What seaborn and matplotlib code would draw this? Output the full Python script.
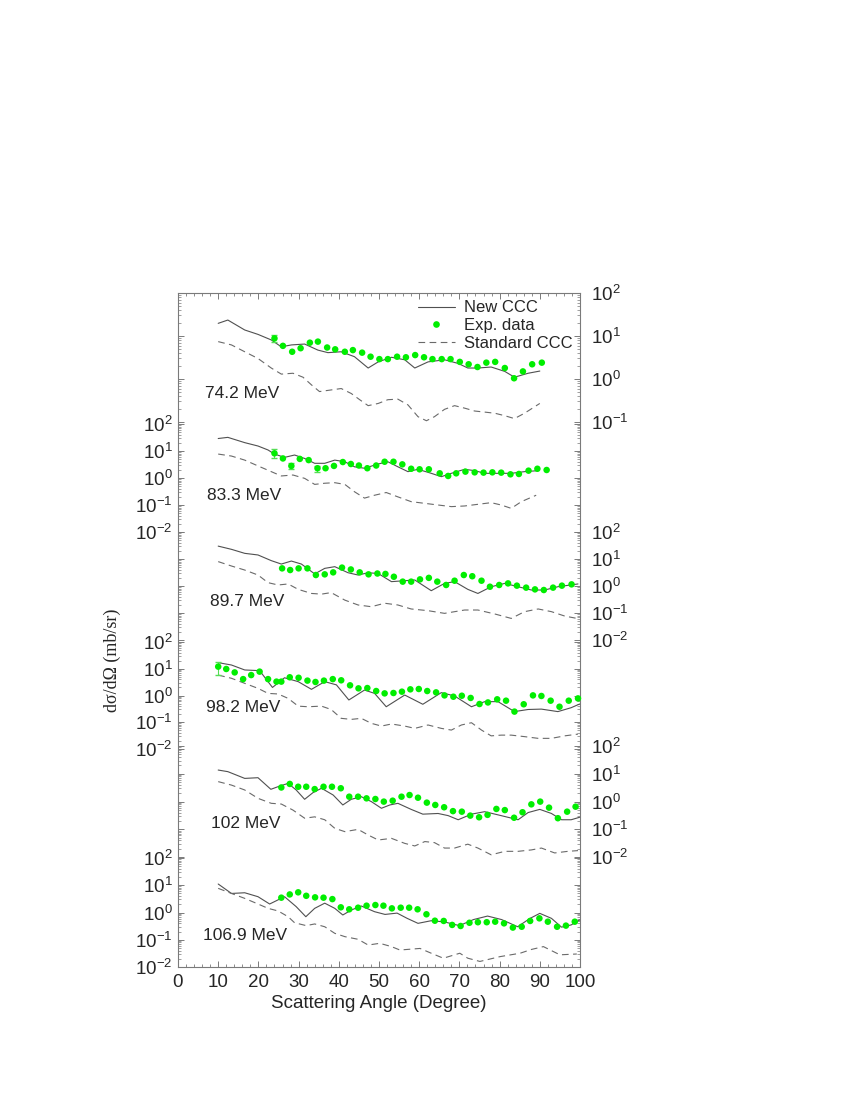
import numpy as np
import matplotlib
matplotlib.use("Agg")
import matplotlib.pyplot as plt
import seaborn as sns
from matplotlib.ticker import LogLocator, MultipleLocator, NullFormatter, FuncFormatter
from matplotlib.lines import Line2D
from matplotlib.legend_handler import HandlerLine2D

# ---- 74.2 MeV ----
ang_new_742 = [10, 12.4, 16.6, 19.9, 23.2, 25.7, 28.2, 31.5, 34.8, 37.3, 40.6, 43.9, 47.3, 49.8, 53.1, 56.4,
               58.9, 62.2, 66.3, 69.7, 72.1, 74.6, 77.9, 81.3, 83.7, 87.1, 90.0]
new_742 = [19.7, 23.5, 13.8, 10.9, 8.1, 5.6, 6.2, 6.5, 4.7, 4.1, 4.3, 3.3, 1.8, 2.5, 3.2, 2.8,
           1.8, 2.5, 2.8, 2.3, 1.8, 1.8, 1.9, 1.5, 1.1, 1.36, 1.53]
ang_exp_742 = [24.0, 26.1, 28.4, 30.5, 32.8, 34.8, 37.1, 39.1, 41.5, 43.5, 45.8, 47.9, 50.1, 52.2, 54.5, 56.7,
               59.0, 61.2, 63.3, 65.6, 67.8, 70.1, 72.3, 74.5, 76.7, 78.9, 81.3, 83.6, 85.8, 88.1, 90.5]
exp_742 = [8.8, 5.9, 4.3, 5.2, 7.0, 7.4, 5.4, 4.9, 4.3, 4.7, 4.1, 3.3, 2.9, 2.9, 3.3, 3.2,
           3.6, 3.2, 2.9, 2.9, 2.9, 2.5, 2.2, 1.9, 2.4, 2.5, 1.8, 1.04, 1.5, 2.2, 2.4]
ang_std_742 = [10, 13.3, 16.6, 19.9, 23.2, 25.7, 28.6, 31.1, 33.2, 35.2, 37.7, 40.6, 43.1, 45.2, 47.3, 49.8,
               52.2, 54.7, 57.2, 59.7, 61.8, 63.8, 66.3, 68.8, 71.3, 73.8, 76.3, 78.8, 81.3, 83.7, 86.2, 90.0]
std_742 = [7.4, 6.2, 4.3, 3.0, 1.8, 1.3, 1.36, 1.1, 0.73, 0.51, 0.55, 0.60, 0.46, 0.33, 0.24, 0.27,
           0.33, 0.34, 0.25, 0.133, 0.107, 0.133, 0.197, 0.24, 0.21, 0.18, 0.17, 0.16, 0.14, 0.12, 0.16, 0.27]
err_x_742, err_lo_742, err_hi_742 = [24.0], [7.4], [10.5]

# ---- 83.3 MeV ----
ang_new_833 = [10, 12.4, 16.6, 19.9, 22.4, 24.0, 26.5, 29.0, 31.5, 34.0, 36.5, 39.0, 41.5, 43.9, 46.4, 49.8,
               52.2, 54.7, 57.2, 59.7, 63.0, 65.5, 68.0, 71.3, 73.8, 76.3, 79.6, 82.9, 86.2, 89.6]
new_833 = [29, 32, 20.4, 15.3, 10.9, 7.7, 5.8, 7.1, 5.3, 3.5, 3.5, 4.6, 4.0, 2.6, 2.3, 3.3,
           4.0, 2.6, 1.72, 2.1, 1.49, 1.12, 1.49, 2.1, 1.87, 1.49, 1.49, 1.49, 1.72, 1.87]
ang_exp_833 = [24.0, 26.1, 28.2, 30.3, 32.5, 34.7, 36.7, 38.8, 41.0, 43.0, 45.0, 47.1, 49.3, 51.4, 53.6, 55.8,
               58.0, 60.1, 62.4, 65.1, 67.2, 69.2, 71.5, 73.8, 76.0, 78.2, 80.4, 82.7, 84.8, 87.2, 89.4, 91.7]
exp_833 = [8.2, 5.3, 2.8, 5.1, 4.6, 2.3, 2.3, 2.8, 3.9, 3.3, 2.9, 2.3, 2.9, 4.0, 4.0, 3.2,
           2.2, 2.1, 2.1, 1.49, 1.19, 1.49, 1.72, 1.62, 1.58, 1.62, 1.58, 1.37, 1.41, 1.87, 2.2, 1.98]
ang_std_833 = [10, 13.3, 16.6, 19.9, 23.2, 25.7, 28.6, 31.5, 34.0, 36.5, 39.0, 41.5, 43.9, 46.4, 48.9, 51.8,
               54.7, 58.0, 61.4, 64.7, 68.0, 71.3, 74.6, 77.9, 80.4, 82.9, 85.4, 89.1]
std_833 = [7.7, 6.5, 4.6, 2.8, 1.72, 1.19, 1.29, 0.97, 0.58, 0.64, 0.67, 0.58, 0.31, 0.18, 0.23, 0.29,
           0.20, 0.133, 0.115, 0.10, 0.087, 0.092, 0.106, 0.122, 0.10, 0.075, 0.133, 0.23]
err_x_833, err_lo_833, err_hi_833 = [24.0, 28.2, 34.7], [5.6, 2.1, 1.62], [11.5, 3.5, 2.9]

# ---- 89.7 MeV ----
ang_new_897 = [10, 13.3, 16.6, 19.9, 23.2, 25.7, 28.2, 30.7, 34.0, 36.5, 39.0, 42.3, 44.8, 47.3, 49.8, 53.1,
               56.4, 58.9, 63.0, 66.3, 68.8, 72.1, 74.6, 77.9, 81.3, 84.6, 87.9, 91.2, 94.5, 99.5]
new_897 = [30, 22.8, 16.2, 14.1, 8.7, 6.5, 8.4, 6.5, 2.8, 4.5, 5.2, 3.1, 2.55, 3.1, 2.9, 1.45,
           1.57, 1.67, 0.67, 1.25, 1.45, 0.75, 0.53, 0.94, 1.25, 0.94, 0.71, 0.71, 0.94, 1.19]
ang_exp_897 = [25.9, 27.9, 30.0, 32.2, 34.3, 36.5, 38.6, 40.8, 43.0, 45.2, 47.4, 49.6, 51.6, 53.7, 55.9, 58.0,
               60.2, 62.4, 64.5, 66.7, 68.8, 71.1, 73.2, 75.5, 77.6, 79.9, 82.1, 84.3, 86.6, 88.8, 91.0, 93.3,
               95.5, 97.9]
exp_897 = [4.5, 3.9, 4.5, 4.5, 2.55, 2.7, 3.2, 4.8, 4.1, 3.2, 2.7, 2.9, 2.8, 2.2, 1.45, 1.45,
           1.76, 2.0, 1.45, 1.09, 1.57, 2.55, 2.3, 1.57, 0.94, 1.09, 1.25, 1.03, 0.87, 0.75, 0.71, 0.87,
           1.03, 1.15]
ang_std_897 = [10, 13.3, 16.6, 19.9, 22.4, 24.9, 27.4, 29.9, 33.2, 35.7, 38.1, 41.5, 44.8, 48.1, 51.4, 54.7,
               58.0, 62.2, 66.3, 71.3, 74.6, 78.8, 82.9, 86.2, 89.6, 92.9, 96.2, 99.5]
std_897 = [8.0, 5.5, 3.9, 2.55, 1.33, 1.09, 1.19, 0.75, 0.53, 0.50, 0.57, 0.30, 0.198, 0.171, 0.23, 0.198,
           0.141, 0.122, 0.097, 0.129, 0.129, 0.092, 0.063, 0.112, 0.141, 0.112, 0.077, 0.062]
err_x_897, err_lo_897, err_hi_897 = [], [], []

# ---- 98.2 MeV ----
ang_new_982 = [10, 13.3, 16.6, 20.3, 23.5, 26.5, 29.9, 33.2, 36.5, 39.4, 42.5, 46.4, 48.9, 51.8, 56.4, 60.9,
               65.5, 68.8, 73.0, 76.3, 79.6, 83.7, 87.1, 90.4, 94.5, 97.8, 99.9]
new_982 = [16.9, 13.8, 9.0, 8.5, 2.0, 4.6, 3.3, 1.70, 3.3, 2.5, 0.68, 1.60, 1.20, 0.38, 1.04, 0.47,
           1.28, 0.96, 0.38, 0.59, 0.59, 0.25, 0.30, 0.31, 0.25, 0.35, 0.48]
ang_exp_982 = [10.0, 12.0, 14.1, 16.2, 18.2, 20.3, 22.4, 24.5, 25.7, 27.8, 30.0, 32.2, 34.2, 36.3, 38.5, 40.6,
               42.8, 44.9, 47.1, 49.3, 51.4, 53.6, 55.7, 57.8, 59.9, 62.0, 64.2, 66.3, 68.5, 70.6, 72.8, 75.0,
               77.1, 79.4, 81.6, 83.7, 86.0, 88.3, 90.4, 92.7, 94.9, 97.2, 99.5]
exp_982 = [12.0, 9.8, 7.3, 4.1, 5.8, 7.8, 4.1, 3.3, 3.3, 4.8, 4.6, 3.6, 3.2, 3.6, 4.1, 3.7,
           2.4, 1.85, 1.9, 1.47, 1.20, 1.24, 1.39, 1.70, 1.75, 1.47, 1.31, 1.01, 0.90, 0.98, 0.81, 0.48,
           0.55, 0.72, 0.64, 0.25, 0.47, 1.01, 0.96, 0.64, 0.38, 0.64, 0.78]
ang_std_982 = [10, 13.3, 16.6, 19.9, 22.4, 24.9, 27.4, 29.9, 32.3, 35.7, 38.1, 40.6, 43.1, 45.6, 48.1, 50.6,
               53.1, 56.4, 58.9, 62.2, 65.5, 68.0, 70.5, 73.0, 75.5, 77.9, 80.4, 82.9, 86.2, 89.6, 92.9, 96.2, 99.5]
std_982 = [5.8, 4.4, 2.85, 1.85, 1.20, 1.14, 0.78, 0.40, 0.38, 0.40, 0.30, 0.14, 0.128, 0.14, 0.091, 0.072,
           0.086, 0.072, 0.059, 0.079, 0.059, 0.051, 0.079, 0.096, 0.051, 0.031, 0.033, 0.033, 0.029, 0.025,
           0.025, 0.031, 0.036]
err_x_982, err_lo_982, err_hi_982 = [10.0], [5.8], [18.4]

# ---- 102 MeV ----
ang_new_102 = [10, 12.4, 16.6, 19.9, 23.1, 25.3, 27.4, 29.4, 31.5, 33.6, 35.7, 38.6, 41.0, 43.1, 45.6, 48.1,
               50.6, 52.7, 54.7, 58.0, 60.9, 64.7, 67.2, 69.7, 73.0, 76.3, 79.6, 84.6, 87.1, 90.0, 92.9, 95.4,
               97.8, 99.9]
new_102 = [13.6, 11.9, 6.8, 7.2, 2.75, 3.6, 4.5, 2.6, 1.20, 2.1, 3.0, 1.71, 0.75, 1.20, 1.49, 0.99,
           0.57, 0.75, 0.86, 0.52, 0.35, 0.37, 0.31, 0.22, 0.35, 0.43, 0.33, 0.22, 0.40, 0.52, 0.37, 0.22,
           0.22, 0.27]
ang_exp_102 = [25.7, 27.8, 29.9, 31.9, 34.0, 36.2, 38.3, 40.5, 42.6, 44.8, 46.9, 49.1, 51.2, 53.4, 55.6, 57.6,
               59.7, 61.9, 64.0, 66.2, 68.4, 70.6, 72.7, 74.9, 77.0, 79.2, 81.3, 83.6, 85.7, 87.9, 90.1, 92.3,
               94.5, 96.8, 98.9]
exp_102 = [3.2, 4.3, 3.4, 3.4, 2.8, 3.4, 3.4, 3.0, 1.49, 1.49, 1.30, 1.23, 0.99, 1.07, 1.49, 1.71,
           1.37, 0.91, 0.75, 0.62, 0.45, 0.43, 0.31, 0.27, 0.33, 0.54, 0.49, 0.26, 0.41, 0.79, 0.99, 0.60,
           0.25, 0.43, 0.65]
ang_std_102 = [10, 13.3, 16.6, 19.9, 23.2, 25.7, 28.6, 31.5, 34.0, 36.5, 39.0, 41.5, 44.8, 47.3, 49.8, 53.1,
               56.4, 58.9, 61.4, 63.8, 66.3, 68.8, 72.1, 74.6, 77.9, 81.3, 84.6, 87.9, 90.4, 93.7, 97.0, 99.5]
std_102 = [5.2, 3.9, 2.6, 1.30, 0.86, 0.81, 0.49, 0.25, 0.28, 0.22, 0.108, 0.082, 0.099, 0.062, 0.041, 0.047,
           0.031, 0.025, 0.036, 0.033, 0.021, 0.021, 0.029, 0.021, 0.012, 0.016, 0.016, 0.018, 0.021, 0.014,
           0.016, 0.017]
err_x_102, err_lo_102, err_hi_102 = [], [], []

# ---- 106.9 MeV ----
ang_new_1069 = [10, 13.3, 16.6, 19.9, 22.8, 26.5, 29.4, 31.8, 34.0, 36.5, 39.0, 41.0, 43.1, 45.6, 48.9, 51.5,
                54.5, 57.0, 59.7, 63.0, 66.3, 70.0, 73.5, 77.0, 80.5, 84.5, 87.5, 90.0, 92.9, 95.4, 97.8, 99.9]
new_1069 = [11.1, 5.0, 5.3, 3.8, 2.05, 3.8, 1.64, 0.70, 1.42, 2.2, 1.42, 0.81, 1.23, 1.73, 1.07, 0.85,
            0.95, 0.61, 0.40, 0.50, 0.45, 0.33, 0.55, 0.74, 0.55, 0.30, 0.60, 0.93, 0.61, 0.29, 0.35, 0.53]
ang_exp_1069 = [25.7, 27.8, 29.9, 31.9, 34.1, 36.2, 38.4, 40.5, 42.6, 44.8, 46.9, 49.1, 51.1, 53.2, 55.4, 57.5,
                59.6, 61.8, 63.9, 66.1, 68.2, 70.3, 72.5, 74.6, 76.8, 78.9, 81.1, 83.3, 85.5, 87.6, 89.9, 92.0,
                94.3, 96.5, 98.7]
exp_1069 = [3.5, 4.6, 5.5, 4.1, 3.6, 3.5, 3.1, 1.55, 1.31, 1.50, 1.78, 1.88, 1.78, 1.42, 1.50, 1.50,
            1.31, 0.86, 0.50, 0.49, 0.35, 0.32, 0.42, 0.44, 0.44, 0.46, 0.40, 0.28, 0.30, 0.49, 0.61, 0.46,
            0.30, 0.33, 0.46]
ang_std_1069 = [10, 13.3, 16.6, 19.9, 22.4, 24.9, 27.4, 29.0, 31.9, 34.0, 36.5, 39.0, 41.5, 44.8, 47.3, 50.2,
                53.1, 55.2, 60.2, 63.0, 66.0, 70.1, 72.1, 75.1, 80.1, 85.1, 87.9, 90.9, 95.0, 99.2]
std_1069 = [7.7, 5.0, 3.3, 2.05, 1.42, 1.14, 0.70, 0.42, 0.33, 0.38, 0.30, 0.172, 0.130, 0.104, 0.064, 0.074,
            0.056, 0.042, 0.048, 0.032, 0.021, 0.032, 0.021, 0.016, 0.024, 0.032, 0.044, 0.056, 0.028, 0.030]
err_x_1069, err_lo_1069, err_hi_1069 = [], [], []

energy_labels = ["74.2 MeV", "83.3 MeV", "89.7 MeV", "98.2 MeV", "102 MeV", "106.9 MeV"]

panels = [
    dict(new=(ang_new_742, new_742), exp=(ang_exp_742, exp_742), std=(ang_std_742, std_742),
         err=(err_x_742, err_lo_742, err_hi_742)),
    dict(new=(ang_new_833, new_833), exp=(ang_exp_833, exp_833), std=(ang_std_833, std_833),
         err=(err_x_833, err_lo_833, err_hi_833)),
    dict(new=(ang_new_897, new_897), exp=(ang_exp_897, exp_897), std=(ang_std_897, std_897),
         err=(err_x_897, err_lo_897, err_hi_897)),
    dict(new=(ang_new_982, new_982), exp=(ang_exp_982, exp_982), std=(ang_std_982, std_982),
         err=(err_x_982, err_lo_982, err_hi_982)),
    dict(new=(ang_new_102, new_102), exp=(ang_exp_102, exp_102), std=(ang_std_102, std_102),
         err=(err_x_102, err_lo_102, err_hi_102)),
    dict(new=(ang_new_1069, new_1069), exp=(ang_exp_1069, exp_1069), std=(ang_std_1069, std_1069),
         err=(err_x_1069, err_lo_1069, err_hi_1069)),
]

# layout (pixels): y of 10^2, y of lowest decade, lowest decade, label side, energy label position
layout = [
    (293, 422, 0.1, "right", 205, 393),
    (424, 532, 0.01, "left", 207, 496),
    (532, 640, 0.01, "right", 210, 602),
    (642, 749, 0.01, "left", 206, 708),
    (746, 857, 0.01, "right", 211, 823),
    (858, 967, 0.01, "left", 203, 936),
]

sns.set_style("ticks")
plt.rcParams["font.family"] = ["Liberation Sans", "DejaVu Sans"]
plt.rcParams["mathtext.fontset"] = "custom"
plt.rcParams["mathtext.rm"] = "Liberation Sans"
plt.rcParams["mathtext.it"] = "Liberation Sans:italic"
plt.rcParams["mathtext.bf"] = "Liberation Sans:bold"

W, H = 845, 1093
X0, X1 = 178, 580
GRAY = "#7a7a7a"
SOLID = "#505050"
DASH = "#6a6a6a"
GREEN = "#00ee00"
TICK_FS = 13.5
LAB_FS = 12.5


def rect(y_top, y_bot):
    return [X0 / W, 1 - y_bot / H, (X1 - X0) / W, (y_bot - y_top) / H]


fig = plt.figure(figsize=(W / 100, H / 100), dpi=100)

frame = fig.add_axes(rect(293, 967))
frame.set_xlim(0, 100)
frame.set_ylim(0, 1)
frame.set_yticks([])
frame.xaxis.set_major_locator(MultipleLocator(10))
frame.xaxis.set_minor_locator(MultipleLocator(2))
frame.tick_params(axis="x", which="both", direction="in", top=True, bottom=True,
                  color=GRAY, labelsize=TICK_FS, pad=5)
frame.tick_params(axis="x", which="major", length=4.5, width=0.7)
frame.tick_params(axis="x", which="minor", length=2.5, width=0.6)
for sp in frame.spines.values():
    sp.set_color(GRAY)
    sp.set_linewidth(0.8)
frame.set_xlabel("Scattering Angle (Degree)", fontsize=TICK_FS, labelpad=3)

fmt = FuncFormatter(lambda v, pos: r"$10^{%d}$" % int(round(np.log10(v))))

for p, (yt, yb, ylo, side, lx, ly), lab in zip(panels, layout, energy_labels):
    pax = fig.add_axes(rect(yt, yb))
    pax.patch.set_visible(False)
    for sp in pax.spines.values():
        sp.set_visible(False)

    sns.lineplot(x=p["new"][0], y=p["new"][1], ax=pax, color=SOLID, linewidth=0.8,
                 estimator=None, clip_on=False)
    sns.lineplot(x=p["std"][0], y=p["std"][1], ax=pax, color=DASH, linewidth=0.8,
                 linestyle=(0, (6, 4)), estimator=None, clip_on=False)
    ex, elo, ehi = p["err"]
    if ex:
        ey = [p["exp"][1][p["exp"][0].index(x)] for x in ex]
        pax.errorbar(ex, ey, yerr=[np.subtract(ey, elo), np.subtract(ehi, ey)], fmt="none",
                     ecolor="#55dd55", elinewidth=0.8, capsize=2.5, clip_on=False)
    sns.scatterplot(x=p["exp"][0], y=p["exp"][1], ax=pax, color=GREEN, s=22,
                    edgecolor="none", linewidth=0, clip_on=False, zorder=3, legend=False)

    pax.set_yscale("log")
    pax.set_xlim(0, 100)
    pax.set_ylim(ylo, 100)
    pax.set_xlabel("")
    pax.set_ylabel("")
    pax.xaxis.set_visible(False)
    pax.yaxis.set_major_locator(LogLocator(base=10, numticks=10))
    pax.yaxis.set_minor_locator(LogLocator(base=10, subs=np.arange(2, 10), numticks=20))
    pax.yaxis.set_major_formatter(fmt)
    pax.yaxis.set_minor_formatter(NullFormatter())
    pax.tick_params(axis="y", which="both", direction="in", left=True, right=True,
                    labelleft=(side == "left"), labelright=(side == "right"),
                    color=GRAY, labelsize=TICK_FS, pad=(4 if side == "left" else 8))
    pax.tick_params(axis="y", which="major", length=4.5, width=0.7)
    pax.tick_params(axis="y", which="minor", length=2.5, width=0.5)

    fig.text(lx / W, 1 - ly / H, lab, fontsize=LAB_FS, ha="left", va="center")


class RightMarker(HandlerLine2D):
    def get_xdata(self, legend, xdescent, ydescent, width, height, fontsize):
        xd = np.array([-xdescent, -xdescent + width])
        return xd, np.array([-xdescent + width])


handles = [
    Line2D([], [], color=SOLID, linewidth=0.8),
    Line2D([], [], color=GREEN, marker="o", markersize=4.8, linestyle="none", markeredgewidth=0),
    Line2D([], [], color=DASH, linewidth=0.8, linestyle=(0, (6, 4))),
]
frame.legend(handles, ["New CCC", "Exp. data", "Standard CCC"], loc="upper right",
             bbox_to_anchor=(1.0, 1.0), frameon=False, fontsize=12, handlelength=2.2,
             handletextpad=0.55, labelspacing=0.15, borderaxespad=0.25, borderpad=0.2,
             handler_map={handles[1]: RightMarker(numpoints=1)})

fig.text(112 / W, 1 - 660 / H, "dσ/dΩ (mb/sr)", rotation=90, ha="center", va="center",
         fontsize=13, family=["Liberation Serif", "DejaVu Serif"])

fig.savefig("out.png", dpi=100)
